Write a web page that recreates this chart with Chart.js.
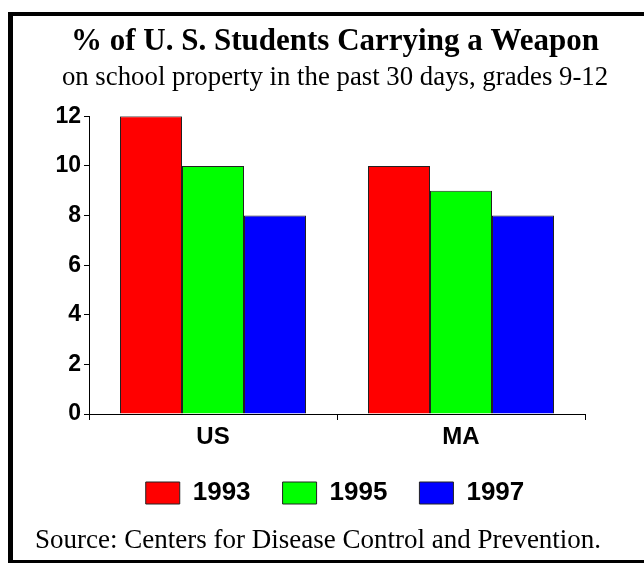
<!DOCTYPE html>
<html>
<head>
<meta charset="utf-8">
<title>% of U. S. Students Carrying a Weapon</title>
<script src="https://cdn.jsdelivr.net/npm/chart.js@4.4.1/dist/chart.umd.min.js"></script>
<style>
    body { margin: 0; background: #fff; overflow: hidden; }
    #wrap { position: relative; width: 644px; height: 564px; }
    #frame {
        position: absolute; left: 8px; top: 12px; width: 700px; height: 551px;
        box-sizing: border-box; border-top: 4px solid #000; border-left: 5px solid #000;
        border-bottom: 3px solid #000; pointer-events: none;
    }
    #source {
        position: absolute; left: 35px; top: 524px;
        font-family: "Liberation Serif", "Times New Roman", serif; font-size: 27px; color: #000;
    }
</style>
</head>
<body>
<div id="wrap">
    <canvas id="weaponChart" width="644" height="564"></canvas>
    <div id="frame"></div>
    <div id="source">Source: Centers for Disease Control and Prevention.</div>
</div>
<script>
const categories = ['US', 'MA'];
const years = ['1993', '1995', '1997'];
const values1993 = [12, 10];
const values1995 = [10, 9];
const values1997 = [8, 8];
const yTicks = [0, 2, 4, 6, 8, 10, 12];
const barColors = ['#ff0000', '#00ff00', '#0000ff'];

function buildChart() {
    const ctx = document.getElementById('weaponChart').getContext('2d');
    const series = [values1993, values1995, values1997];

    new Chart(ctx, {
        type: 'bar',
        data: {
            labels: categories,
            datasets: years.map(function(year, i) {
                return {
                    label: year,
                    data: series[i],
                    backgroundColor: barColors[i],
                    borderColor: '#222',
                    borderWidth: 1,
                    categoryPercentage: 0.75,
                    barPercentage: 1.0
                };
            })
        },
        options: {
            responsive: false,
            animation: false,
            devicePixelRatio: 1,
            layout: { padding: { left: 26, right: 0, top: 0, bottom: 48 } },
            plugins: {
                title: {
                    display: true,
                    text: '% of U. S. Students Carrying a Weapon',
                    color: '#000',
                    font: { family: '"Liberation Serif", "Times New Roman", serif', size: 31, weight: 'bold', lineHeight: 1.2 },
                    padding: { top: 23, bottom: 0 }
                },
                subtitle: {
                    display: true,
                    text: 'on school property in the past 30 days, grades 9-12',
                    color: '#000',
                    font: { family: '"Liberation Serif", "Times New Roman", serif', size: 26.8, lineHeight: 1.2 },
                    padding: { top: 2, bottom: 22 }
                },
                legend: {
                    position: 'bottom',
                    labels: {
                        color: '#000',
                        boxWidth: 34,
                        boxHeight: 22,
                        padding: 32,
                        font: { family: '"Liberation Sans", Arial, sans-serif', size: 26, weight: 'bold' }
                    }
                },
                tooltip: { enabled: false }
            },
            scales: {
                x: {
                    afterFit: function(scale) { scale.height = 34; },
                    grid: { display: true, drawOnChartArea: false, tickLength: 6, color: '#000', offset: true },
                    border: { color: '#000', width: 1 },
                    ticks: {
                        color: '#000',
                        padding: 5,
                        font: { family: '"Liberation Sans", Arial, sans-serif', size: 24, weight: 'bold', lineHeight: 1.0 }
                    }
                },
                y: {
                    min: 0,
                    max: 12,
                    afterFit: function(scale) { scale.width = 63; },
                    afterBuildTicks: function(scale) {
                        scale.ticks = yTicks.map(function(v) { return { value: v }; });
                    },
                    grid: { display: true, drawOnChartArea: false, tickLength: 5, color: '#000' },
                    border: { color: '#000', width: 1 },
                    ticks: {
                        color: '#000',
                        padding: 3,
                        font: { family: '"Liberation Sans", Arial, sans-serif', size: 23, weight: 'bold' }
                    }
                },
                // empty right-hand axis that only keeps room so the plot ends where the original does
                spacer: {
                    type: 'linear',
                    position: 'right',
                    display: true,
                    afterFit: function(scale) { scale.width = 59; },
                    grid: { display: false },
                    border: { display: false },
                    ticks: { display: false }
                }
            }
        }
    });
}

buildChart();
</script>
</body>
</html>
